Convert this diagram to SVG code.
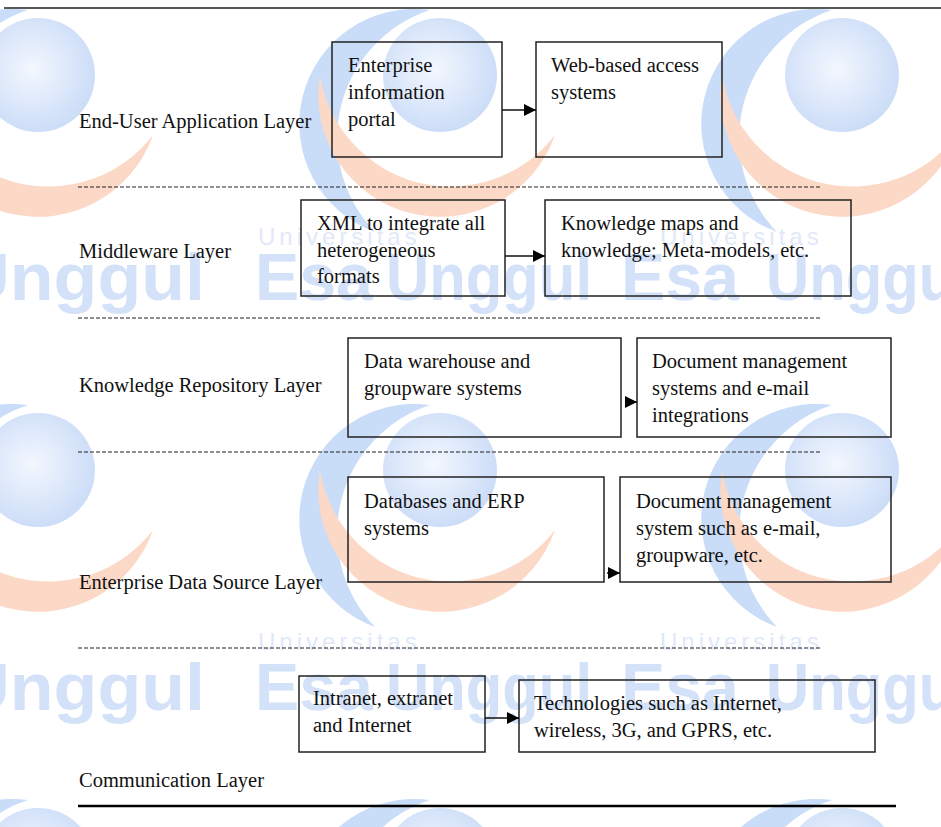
<svg xmlns="http://www.w3.org/2000/svg" width="941" height="827" viewBox="0 0 941 827">
<style>
.lbl{font-family:"Liberation Serif","Times New Roman",serif;font-size:20.5px;fill:#111}
.box{fill:none;stroke:#222;stroke-width:1.5}
.dash{stroke:#222;stroke-width:1.2;stroke-dasharray:4 2;fill:none}
.con{stroke:#111;stroke-width:1.5;fill:none;marker-end:url(#ah)}
.wm{font-family:"Liberation Sans",Arial,sans-serif;font-weight:bold;font-size:66px;fill:#d3e2f8}
.wu{font-family:"Liberation Sans",Arial,sans-serif;font-size:24px;fill:#dfe9f9;letter-spacing:4px}
.bl{fill:#c9dcf8}
.or{fill:#fcd8c6}
</style>
<defs>
<marker id="ah" markerUnits="userSpaceOnUse" markerWidth="12" markerHeight="12" refX="12" refY="6" orient="auto">
<path d="M0,0 L12,6 L0,12 z" fill="#000"/>
</marker>
<radialGradient id="sph" cx="0.45" cy="0.45" r="0.6">
<stop offset="0" stop-color="#f3f7fe"/>
<stop offset="1" stop-color="#c9dbf7"/>
</radialGradient>
<g id="logo">
<path class="bl" d="M-10,-65 A115,115 0 0 0 -65,157 A135,135 0 0 1 -10,-65 z"/>
<path class="or" d="M-120,0 A121.7,121.7 0 0 0 115,60 A132,132 0 0 1 -120,0 z"/>
<circle r="57" fill="url(#sph)"/>
</g>
</defs>
<rect width="941" height="827" fill="#fff"/>
<g id="watermark">
<use href="#logo" x="38" y="75"/>
<use href="#logo" x="440" y="75"/>
<use href="#logo" x="842" y="75"/>
<use href="#logo" x="38" y="470"/>
<use href="#logo" x="440" y="470"/>
<use href="#logo" x="842" y="470"/>
<use href="#logo" x="38" y="865"/>
<use href="#logo" x="440" y="865"/>
<use href="#logo" x="842" y="865"/>
<text class="wu" x="258" y="245">Universitas</text>
<text class="wu" x="660" y="245">Universitas</text>
<text class="wu" x="258" y="650">Universitas</text>
<text class="wu" x="660" y="650">Universitas</text>
<text class="wm" x="-42" y="300" textLength="247" lengthAdjust="spacingAndGlyphs">Unggul</text>
<text class="wm" x="255" y="300" textLength="118" lengthAdjust="spacingAndGlyphs">Esa</text>
<text class="wm" x="386" y="300" textLength="206" lengthAdjust="spacingAndGlyphs">Unggul</text>
<text class="wm" x="621" y="300" textLength="118" lengthAdjust="spacingAndGlyphs">Esa</text>
<text class="wm" x="766" y="300" textLength="206" lengthAdjust="spacingAndGlyphs">Unggul</text>
<text class="wm" x="-42" y="710" textLength="247" lengthAdjust="spacingAndGlyphs">Unggul</text>
<text class="wm" x="255" y="710" textLength="118" lengthAdjust="spacingAndGlyphs">Esa</text>
<text class="wm" x="386" y="710" textLength="206" lengthAdjust="spacingAndGlyphs">Unggul</text>
<text class="wm" x="621" y="710" textLength="118" lengthAdjust="spacingAndGlyphs">Esa</text>
<text class="wm" x="766" y="710" textLength="206" lengthAdjust="spacingAndGlyphs">Unggul</text>
</g>
<g id="rules">
<line x1="4" y1="8" x2="941" y2="8" stroke="#222" stroke-width="1.5"/>
<line class="dash" x1="78" y1="187" x2="822" y2="187"/>
<line class="dash" x1="78" y1="318" x2="822" y2="318"/>
<line class="dash" x1="78" y1="452" x2="822" y2="452"/>
<line class="dash" x1="78" y1="648" x2="822" y2="648"/>
<line x1="78" y1="806" x2="896" y2="806" stroke="#000" stroke-width="2.5"/>
</g>
<g id="layers">
<text class="lbl" x="79" y="128">End-User Application Layer</text>
<text class="lbl" x="79" y="258">Middleware Layer</text>
<text class="lbl" x="79" y="392">Knowledge Repository Layer</text>
<text class="lbl" x="79" y="589">Enterprise Data Source Layer</text>
<text class="lbl" x="79" y="787">Communication Layer</text>
</g>
<g id="n1"><rect class="box" x="332" y="42" width="170" height="115"/>
<text class="lbl" x="348" y="72">Enterprise</text><text class="lbl" x="348" y="99">information</text><text class="lbl" x="348" y="126">portal</text></g>
<g id="n2"><rect class="box" x="536" y="42" width="186" height="115"/>
<text class="lbl" x="551" y="72">Web-based access</text><text class="lbl" x="551" y="99">systems</text></g>
<g id="n3"><rect class="box" x="301" y="200" width="204" height="96"/>
<text class="lbl" x="317" y="230">XML to integrate all</text><text class="lbl" x="317" y="257">heterogeneous</text><text class="lbl" x="317" y="283">formats</text></g>
<g id="n4"><rect class="box" x="545" y="200" width="306" height="96"/>
<text class="lbl" x="561" y="230">Knowledge maps and</text><text class="lbl" x="561" y="257">knowledge; Meta-models, etc.</text></g>
<g id="n5"><rect class="box" x="348" y="338" width="273" height="99"/>
<text class="lbl" x="364" y="368">Data warehouse and</text><text class="lbl" x="364" y="395">groupware systems</text></g>
<g id="n6"><rect class="box" x="637" y="338" width="254" height="99"/>
<text class="lbl" x="652" y="368">Document management</text><text class="lbl" x="652" y="395">systems and e-mail</text><text class="lbl" x="652" y="422">integrations</text></g>
<g id="n7"><rect class="box" x="348" y="477" width="256" height="105"/>
<text class="lbl" x="364" y="508">Databases and ERP</text><text class="lbl" x="364" y="535">systems</text></g>
<g id="n8"><rect class="box" x="620" y="477" width="271" height="105"/>
<text class="lbl" x="636" y="508">Document management</text><text class="lbl" x="636" y="535">system such as e-mail,</text><text class="lbl" x="636" y="562">groupware, etc.</text></g>
<g id="n9"><rect class="box" x="299" y="676" width="186" height="76"/>
<text class="lbl" x="313" y="705">Intranet, extranet</text><text class="lbl" x="313" y="732">and Internet</text></g>
<g id="n10"><rect class="box" x="519" y="680" width="356" height="72"/>
<text class="lbl" x="534" y="710">Technologies such as Internet,</text><text class="lbl" x="534" y="737">wireless, 3G, and GPRS, etc.</text></g>
<g id="connectors">
<line class="con" x1="502" y1="110" x2="536" y2="110"/>
<line class="con" x1="505" y1="256" x2="545" y2="256"/>
<line class="con" x1="626" y1="402" x2="637" y2="402"/>
<line class="con" x1="607" y1="573" x2="620" y2="573"/>
<line class="con" x1="485" y1="718" x2="519" y2="718"/>
</g>
</svg>
